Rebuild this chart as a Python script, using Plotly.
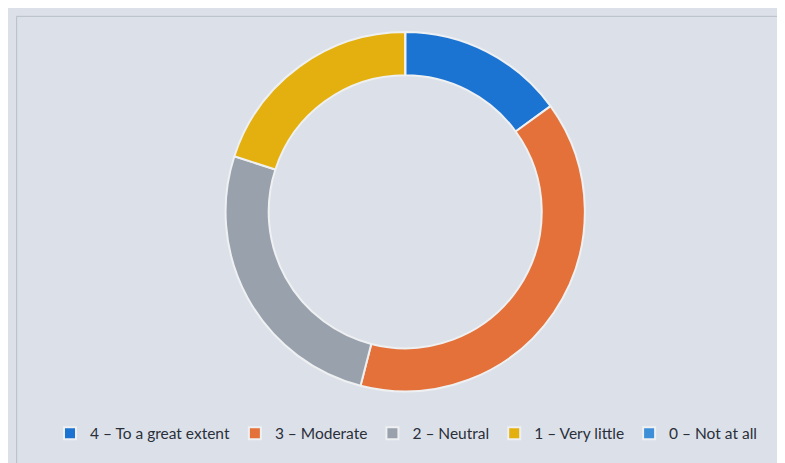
import plotly.graph_objects as go

labels = ["4 – To a great extent", "3 – Moderate", "2 – Neutral", "1 – Very little", "0 – Not at all"]
values = [15, 39, 26, 20, 0]
colors = ["#1c74d2", "#e4703a", "#99a1ad", "#e4b00f", "#3d8fd8"]

fig = go.Figure(go.Pie(
    labels=labels,
    values=values,
    hole=0.76,
    sort=False,
    direction="clockwise",
    rotation=0,
    textinfo="none",
    marker=dict(colors=colors, line=dict(color="#eef0f2", width=2)),
    domain=dict(x=[0.276, 0.736], y=[0.172, 0.948]),
))

fig.update_layout(
    width=785, height=463,
    margin=dict(l=0, r=0, t=0, b=0),
    paper_bgcolor="#dce1e9",
    plot_bgcolor="#dce1e9",
    font=dict(family="Lato, Open Sans, sans-serif", size=15.5, color="#2a2f3a"),
    showlegend=True,
    legend=dict(orientation="h", x=0.507, xanchor="center", y=0.044, yanchor="bottom",
                bgcolor="rgba(0,0,0,0)", itemwidth=30, traceorder="normal"),
    shapes=[dict(type="rect", xref="paper", yref="paper", x0=0.011, x1=1.2, y0=-0.2, y1=0.982,
                 line=dict(color="#b9bec6", width=1), fillcolor="rgba(0,0,0,0)", layer="below")],
)

fig.write_html("out.html")
